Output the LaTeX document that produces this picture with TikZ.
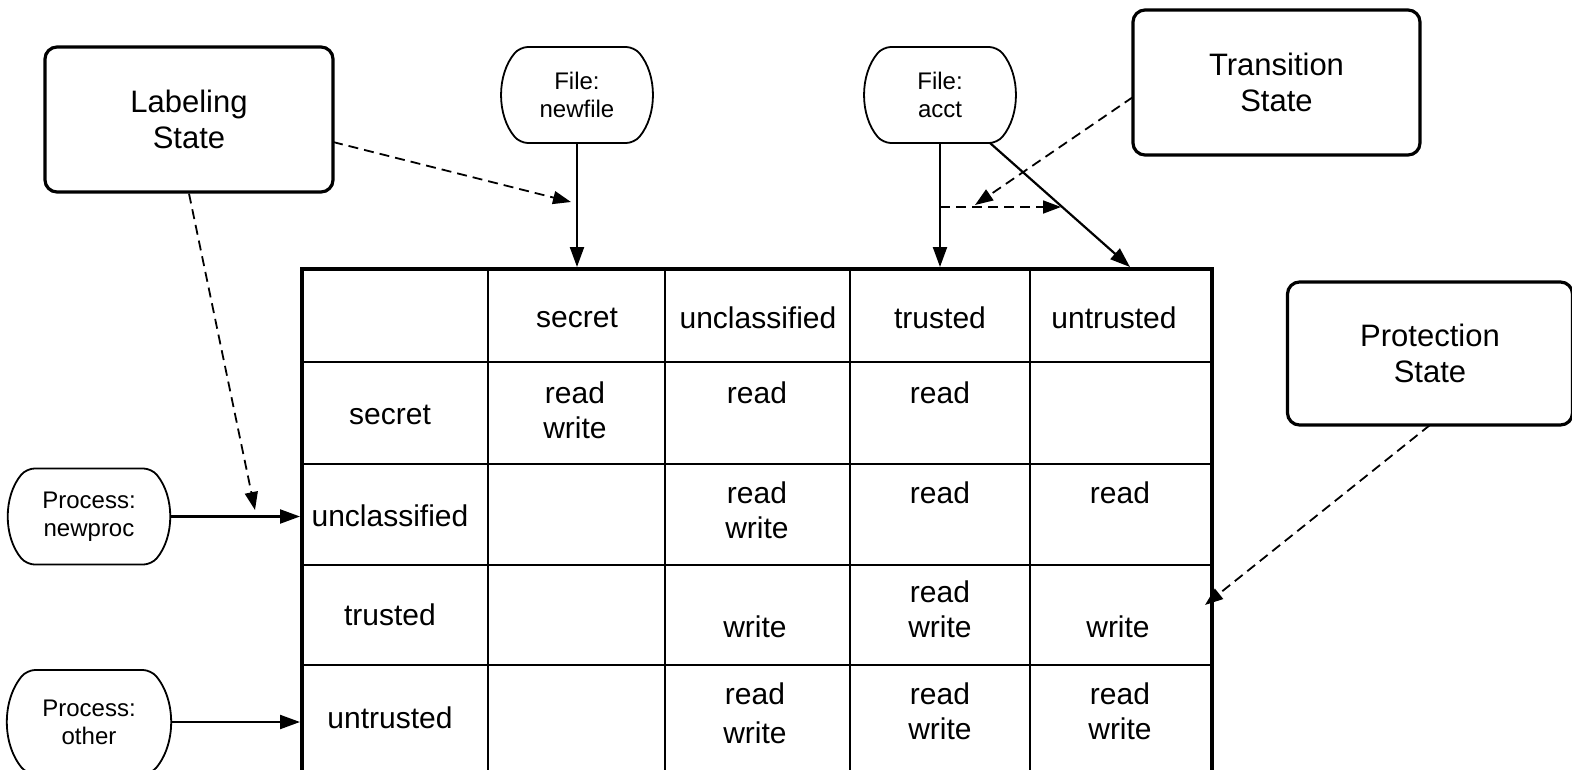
\documentclass[tikz,border=0pt]{standalone}
\usepackage{fontspec}
\setmainfont{Liberation Sans}
\usetikzlibrary{arrows.meta,shapes.misc}
\begin{document}
\begin{tikzpicture}[x=1pt,y=-1pt,
  statebox/.style={draw, line width=3.2pt, rounded corners=12pt, align=center,
    font=\fontsize{31}{36}\selectfont, inner sep=0pt},
  entity/.style={draw, line width=1.8pt, rounded rectangle, rounded rectangle arc length=80,
    rounded corners=8pt, align=center, font=\fontsize{24}{28}\selectfont, inner sep=0pt},
  cell/.style={align=center, font=\fontsize{30}{35}\selectfont, inner sep=0pt},
  flow/.style={line width=2.2pt, -{Triangle[length=20pt,width=14pt]}},
  dflow/.style={line width=1.8pt, dash pattern=on 10pt off 6pt, -{Triangle[length=18pt,width=13pt]}},
  grid/.style={line width=2.4pt}
]
\useasboundingbox (0,0) rectangle (1572,769);
\clip (0,0) rectangle (1572,769);

% state boxes
\node[statebox, minimum width=288pt, minimum height=145pt] (lab) at (189,119.5) {Labeling\\State};
\node[statebox, minimum width=287pt, minimum height=145pt] (tran) at (1276.5,82.5) {Transition\\State};
\node[statebox, minimum width=285pt, minimum height=143pt] (prot) at (1430,353.5) {Protection\\State};

% entities
\node[entity, minimum width=122pt, minimum height=96pt] (nf) at (577,95) {File:\\newfile};
\node[entity, minimum width=124pt, minimum height=96pt] (acct) at (940,95) {File:\\acct};
\node[entity, minimum width=160pt, minimum height=96pt] (np) at (89,516.5) {Process:\\newproc};
\node[entity, minimum width=160pt, minimum height=104pt] (op) at (89,722) {Process:\\other};

% table
\node[draw, line width=3.6pt, minimum width=910pt, minimum height=515pt, anchor=north west, inner sep=0pt] (tbl) at (300,267) {};
\foreach \yy in {362,464,565,665} \draw[grid] (300,\yy) -- (1210,\yy);
\foreach \xx in {488,665,850,1030} \draw[grid] (\xx,267) -- (\xx,780);

% headers
\node[cell] (hs) at (577,318) {secret};
\node[cell] (hu) at (758,318) {unclassified};
\node[cell] (ht) at (940,318) {trusted};
\node[cell] (hn) at (1114,318) {untrusted};
\node[cell] (rs) at (390,415) {secret};
\node[cell] (ru) at (390,516) {unclassified};
\node[cell] (rt) at (390,615) {trusted};
\node[cell] (rn) at (390,718) {untrusted};

% cells
\node[cell] (c11) at (575,410.5) {read\\write};
\node[cell] (c12) at (757,393) {read};
\node[cell] (c13) at (940,393) {read};
\node[cell] (c22) at (757,510) {read\\write};
\node[cell] (c23) at (940,493) {read};
\node[cell] (c24) at (1120,493) {read};
\node[cell] (c32) at (755,627) {write};
\node[cell] (c33) at (940,609.5) {read\\write};
\node[cell] (c34) at (1118,627) {write};
\node[cell] (c42) at (755,713) {read\\[4pt]write};
\node[cell] (c43) at (940,711) {read\\write};
\node[cell] (c44) at (1120,711) {read\\write};

% helper coordinates
\coordinate (labout) at (333,142);
\coordinate (nfhit) at (571,202);
\coordinate (nphit) at (255,510);
\coordinate (acctout) at (990,143);
\coordinate (utop) at (1130,267);
\coordinate (tranout) at (1133,97);
\coordinate (acctmid) at (975,205);
\coordinate (hstart) at (940,207);
\coordinate (hend) at (1061,207);
\coordinate (protout) at (1430,425);
\coordinate (tblright) at (1205,605);

% solid connectors
\draw[flow] (nf.south) -- (nf.south |- tbl.north);
\draw[flow] (acct.south) -- (acct.south |- tbl.north);
\draw[flow] (acctout) -- (utop);
\draw[flow] (np.east) -- (np.east -| tbl.west);
\draw[flow] (op.east) -- (op.east -| tbl.west);

% dashed connectors
\draw[dflow] (labout) -- (nfhit);
\draw[dflow] (lab.south) -- (nphit);
\draw[dflow] (tranout) -- (acctmid);
\draw[dflow] (hstart) -- (hend);
\draw[dflow] (protout) -- (tblright);
\end{tikzpicture}
\end{document}
